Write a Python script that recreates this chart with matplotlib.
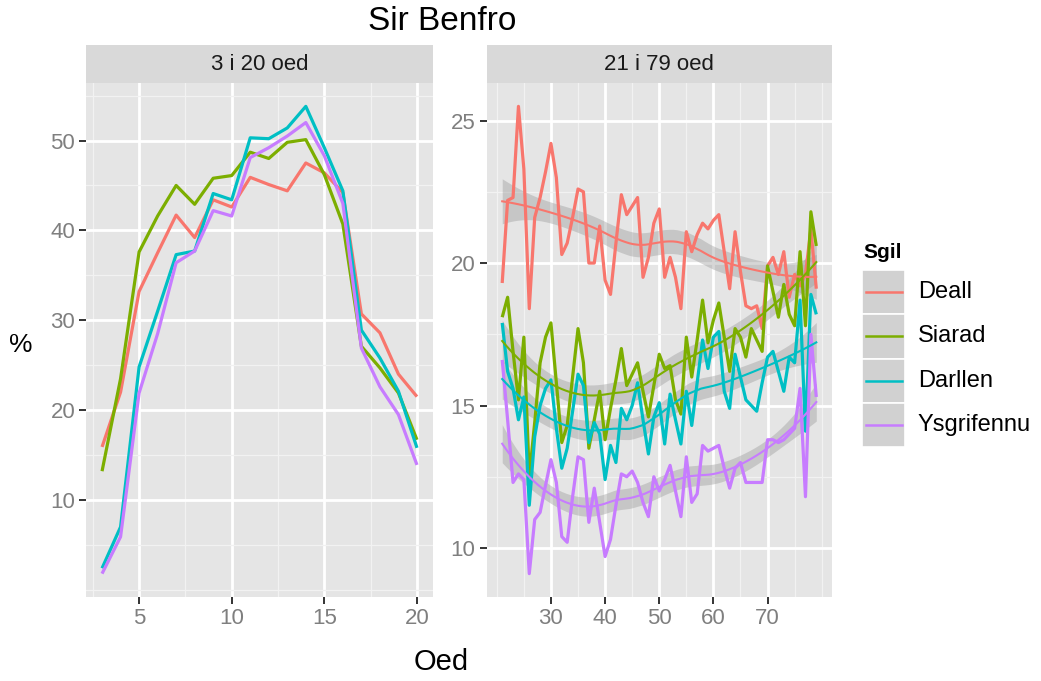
import numpy as np
import matplotlib
matplotlib.use("Agg")
import matplotlib.pyplot as plt
from matplotlib.patches import Rectangle
from matplotlib.lines import Line2D
from matplotlib.ticker import FixedLocator

plt.rcParams["font.family"] = ["Liberation Sans", "DejaVu Sans"]

# ---- data -------------------------------------------------------------
skills = ["Deall", "Siarad", "Darllen", "Ysgrifennu"]
colors = ["#F8766D", "#7CAE00", "#00BFC4", "#C77CFF"]

young_age = list(range(3, 21))
young_deall = [15.9, 22.0, 33.2, 37.5, 41.7, 39.2, 43.4, 42.6, 45.9, 45.1,
               44.4, 47.5, 46.4, 44.2, 30.7, 28.6, 24.0, 21.5]
young_siarad = [13.2, 23.5, 37.6, 41.6, 45.0, 42.9, 45.8, 46.1, 48.7, 48.0,
                49.8, 50.1, 46.2, 40.7, 27.1, 24.7, 21.9, 16.7]
young_darllen = [2.4, 7.0, 24.8, 31.0, 37.3, 37.7, 44.1, 43.4, 50.3, 50.2,
                 51.4, 53.8, 49.2, 44.4, 28.9, 25.8, 22.1, 15.8]
young_ysgrifennu = [1.8, 5.9, 21.9, 28.5, 36.4, 37.7, 42.2, 41.6, 48.1, 49.2,
                    50.5, 52.0, 48.3, 43.0, 26.9, 22.6, 19.5, 13.9]

adult_age = list(range(21, 80))
adult_deall = [19.3, 22.2, 22.3, 25.5, 23.3, 18.4, 21.6, 22.3, 23.2, 24.2,
               23.0, 20.3, 20.7, 21.6, 22.6, 22.5, 20.0, 20.0, 21.3, 19.4,
               18.9, 20.7, 22.4, 21.7, 22.0, 22.3, 19.5, 20.2, 21.4, 21.9,
               19.5, 20.2, 19.5, 18.4, 21.1, 20.4, 21.0, 21.4, 21.2, 21.5,
               21.7, 20.4, 19.1, 21.1, 19.7, 18.5, 18.4, 18.5, 17.7, 19.9,
               20.2, 19.6, 20.4, 18.8, 19.6, 19.2, 19.6, 21.2, 19.1]
adult_siarad = [18.1, 18.8, 16.9, 15.2, 17.4, 12.5, 14.4, 16.5, 17.4, 17.9,
                15.8, 13.7, 14.3, 16.0, 17.7, 16.5, 13.5, 14.5, 15.5, 13.8,
                14.9, 15.9, 17.0, 15.7, 16.1, 16.5, 15.5, 14.6, 15.7, 16.8,
                16.3, 16.4, 15.2, 14.7, 17.4, 16.0, 17.3, 18.7, 17.2, 18.0,
                18.6, 17.4, 16.2, 17.7, 17.4, 16.7, 17.7, 17.3, 16.9, 19.9,
                19.0, 18.1, 19.25, 18.2, 17.8, 20.4, 17.8, 21.8, 20.6]
adult_darllen = [17.9, 16.2, 15.6, 14.5, 15.3, 11.5, 13.9, 15.0, 15.6, 15.9,
                 14.2, 12.8, 13.5, 14.8, 16.1, 15.7, 13.7, 14.4, 14.0, 12.4,
                 13.6, 13.0, 14.9, 14.5, 15.0, 15.8, 14.5, 13.3, 14.6, 15.1,
                 13.65, 15.4, 14.5, 13.65, 15.5, 14.3, 15.8, 17.3, 16.3, 17.4,
                 17.6, 15.5, 14.9, 16.8, 16.0, 15.2, 15.0, 14.8, 15.8, 16.7,
                 16.9, 16.2, 15.5, 16.7, 16.5, 18.7, 14.1, 18.9, 18.2]
adult_ysgrifennu = [16.6, 14.5, 12.3, 12.6, 12.4, 9.1, 11.0, 11.25, 12.2, 13.1,
                    12.3, 10.4, 10.2, 11.8, 13.2, 13.1, 10.9, 12.1, 10.9, 9.7,
                    10.3, 11.5, 12.6, 12.5, 12.7, 12.3, 11.6, 11.1, 12.5, 12.0,
                    12.4, 12.9, 12.0, 11.1, 13.2, 11.6, 11.9, 13.6, 13.4, 13.5,
                    13.6, 12.8, 12.1, 12.8, 13.0, 12.3, 12.3, 12.3, 12.3, 13.8,
                    13.8, 13.7, 13.8, 14.0, 14.2, 15.6, 11.8, 17.5, 15.3]

young_series = [young_deall, young_siarad, young_darllen, young_ysgrifennu]
adult_series = [adult_deall, adult_siarad, adult_darllen, adult_ysgrifennu]

W, H = 1041, 681


def fx(px):
    return px / W


def fy(py):
    return 1 - py / H


def loess(x, y, xs, span=0.75):
    """Local quadratic regression with tricube weights, plus standard errors."""
    x = np.asarray(x, float)
    y = np.asarray(y, float)
    n = len(x)
    q = int(np.floor(n * span))

    def row(x0):
        d = np.abs(x - x0)
        h = np.sort(d)[q - 1]
        u = np.clip(d / h, 0, 1)
        w = (1 - u ** 3) ** 3
        X = np.vstack([np.ones(n), x - x0, (x - x0) ** 2]).T
        A = X.T @ (w[:, None] * X)
        return np.linalg.solve(A, X.T * w)[0]

    L = np.array([row(v) for v in x])
    resid = y - L @ y
    M = np.eye(n) - L
    delta1 = np.trace(M.T @ M)
    sigma = np.sqrt(np.sum(resid ** 2) / delta1)
    R = np.array([row(v) for v in xs])
    fit = R @ y
    se = sigma * np.sqrt((R ** 2).sum(axis=1))
    return fit, se


def style_panel(ax, xmaj, xmin, ymaj, ymin):
    ax.set_facecolor("#E5E5E5")
    for s in ax.spines.values():
        s.set_visible(False)
    ax.xaxis.set_major_locator(FixedLocator(xmaj))
    ax.xaxis.set_minor_locator(FixedLocator(xmin))
    ax.yaxis.set_major_locator(FixedLocator(ymaj))
    ax.yaxis.set_minor_locator(FixedLocator(ymin))
    ax.grid(which="major", color="white", lw=2.0)
    ax.grid(which="minor", color="#F2F2F2", lw=0.9)
    ax.set_axisbelow(True)
    ax.tick_params(which="major", length=5, width=1.4, color="#333333",
                   labelcolor="#7F7F7F", labelsize=16, pad=3)
    ax.tick_params(which="minor", length=0)


def expand(lo, hi, f=0.05):
    pad = (hi - lo) * f
    return lo - pad, hi + pad


fig = plt.figure(figsize=(W / 100, H / 100), dpi=100)

panel_top, panel_bot = 83, 597
ax1 = fig.add_axes([fx(86.3), fy(panel_bot), (432.7 - 86.3) / W,
                    (panel_bot - panel_top) / H])
ax2 = fig.add_axes([fx(486.5), fy(panel_bot), (832 - 486.5) / W,
                    (panel_bot - panel_top) / H])

# left panel: ages 3 to 20
for vals, c in zip(young_series, colors):
    ax1.plot(young_age, vals, color=c, lw=2.3, solid_capstyle="butt")
allv = np.concatenate([np.asarray(v) for v in young_series])
ax1.set_xlim(*expand(min(young_age), max(young_age)))
ax1.set_ylim(*expand(allv.min(), allv.max()))
style_panel(ax1, [5, 10, 15, 20], [2.5, 7.5, 12.5, 17.5],
            [10, 20, 30, 40, 50], [0, 5, 15, 25, 35, 45, 55])

# right panel: ages 21 to 79 with loess smooths
xs = np.linspace(min(adult_age), max(adult_age), 80)
band_mult = 1.2
lows, highs = [], []
for vals, c in zip(adult_series, colors):
    ax2.plot(adult_age, vals, color=c, lw=2.3, solid_capstyle="butt")
for vals, c in zip(adult_series, colors):
    fit, se = loess(adult_age, vals, xs)
    lo, hi = fit - band_mult * se, fit + band_mult * se
    lows.append(lo.min())
    highs.append(hi.max())
    ax2.fill_between(xs, lo, hi, color="#999999", alpha=0.4, lw=0)
    ax2.plot(xs, fit, color=c, lw=1.5)
allv2 = np.concatenate([np.asarray(v) for v in adult_series])
ax2.set_xlim(*expand(min(adult_age), max(adult_age)))
ax2.set_ylim(*expand(min(allv2.min(), min(lows)), max(allv2.max(), max(highs))))
style_panel(ax2, [30, 40, 50, 60, 70], [20, 25, 35, 45, 55, 65, 75, 80],
            [10, 15, 20, 25], [12.5, 17.5, 22.5])

# facet strips
strip_top = 45
for ax, label in [(ax1, "3 i 20 oed"), (ax2, "21 i 79 oed")]:
    b = ax.get_position()
    fig.patches.append(Rectangle((b.x0, fy(panel_top)), b.width,
                                 fy(strip_top) - fy(panel_top),
                                 transform=fig.transFigure,
                                 facecolor="#D9D9D9", edgecolor="none"))
    fig.text(b.x0 + b.width / 2, (fy(strip_top) + fy(panel_top)) / 2, label,
             ha="center", va="center", fontsize=16, color="#1A1A1A")

# titles
fig.text(fx(442), fy(22), "Sir Benfro", ha="center", va="center", fontsize=24)
fig.text(fx(441), fy(662), "Oed", ha="center", va="center", fontsize=21)
fig.text(fx(21), fy(345), "%", ha="center", va="center", fontsize=19)

# legend
fig.text(fx(863), fy(253), "Sgil", ha="left", va="center", fontsize=15,
         fontweight="bold")
key_x0, key_x1 = 862, 905
row_h = 44.3
for i, (name, c) in enumerate(zip(skills, colors)):
    top = 270 + i * row_h
    fig.patches.append(Rectangle((fx(key_x0), fy(top + row_h)),
                                 (key_x1 - key_x0) / W, row_h / H,
                                 transform=fig.transFigure,
                                 facecolor="#D1D1D1", edgecolor="white", lw=1.2))
    yc = fy(top + row_h / 2)
    fig.add_artist(Line2D([fx(866), fx(902)], [yc, yc], color=c, lw=1.8,
                          transform=fig.transFigure))
    fig.text(fx(918), yc, name, ha="left", va="center", fontsize=17)

fig.savefig("out.png", dpi=100)
